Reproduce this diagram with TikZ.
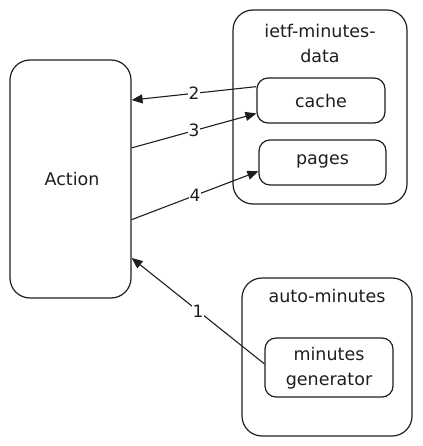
\documentclass[tikz,border=0pt]{standalone}
\usepackage{fontspec}
\setmainfont{DejaVu Sans}
\usetikzlibrary{arrows.meta,calc}
\definecolor{ink}{HTML}{1E1E1E}
\begin{document}
\begin{tikzpicture}[x=1pt,y=-1pt,
  box/.style={draw=ink,line width=1.2pt,rounded corners=20pt,inner sep=0pt},
  inbox/.style={draw=ink,line width=1.2pt,rounded corners=11pt,inner sep=0pt},
  txt/.style={text=ink,font=\fontsize{17.5}{25}\selectfont,align=center,inner sep=0pt},
  conn/.style={draw=ink,line width=1.1pt,-{Triangle[length=11pt,width=9pt]}},
  lbl/.style={fill=white,text=ink,font=\fontsize{17}{18}\selectfont,inner sep=1pt}]
\useasboundingbox (0,0) rectangle (422,446);
\node[box,minimum width=121pt,minimum height=238pt] (act) at (70.5,179) {};
\node[txt] (actl) at (72,179) {Action};
\node[box,minimum width=174pt,minimum height=194pt] (ietf) at (320,107) {};
\node[txt] (ietfl) at (320,43) {ietf-minutes-\\data};
\node[inbox,minimum width=128pt,minimum height=45pt] (cache) at (321,100.5) {};
\node[txt] (cachel) at (321,101) {cache};
\node[inbox,minimum width=127pt,minimum height=45pt] (pages) at (322.5,162.5) {};
\node[txt] (pagesl) at (322.5,161) {pages};
\node[box,minimum width=170pt,minimum height=158pt] (auto) at (327,357) {};
\node[txt] (autol) at (327,296) {auto-minutes};
\node[inbox,minimum width=128pt,minimum height=59pt] (gen) at (329,367.5) {};
\node[txt] (genl) at (329,368) {minutes\\generator};
\draw[conn] ($(cache.north west)!0.2!(cache.south west)$) -- node[lbl]{2} ($(act.north east)!0.17!(act.south east)$);
\draw[conn] ($(act.north east)!0.37!(act.south east)$) -- node[lbl]{3} ($(cache.north west)!0.78!(cache.south west)$);
\draw[conn] ($(act.north east)!0.67!(act.south east)$) -- node[lbl]{4} ($(pages.north west)!0.69!(pages.south west)$);
\draw[conn] ($(gen.north west)!0.44!(gen.south west)$) -- node[lbl]{1} ($(act.north east)!0.83!(act.south east)$);
\end{tikzpicture}
\end{document}
